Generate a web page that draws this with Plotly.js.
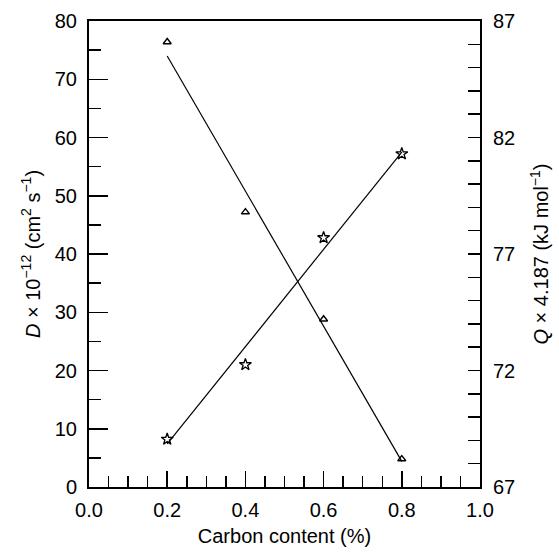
<!DOCTYPE html>
<html>
<head>
<meta charset="utf-8">
<script src="https://cdn.plot.ly/plotly-3.0.1.min.js"></script>
<style>html,body{margin:0;padding:0;background:#fff;}#chart{width:559px;height:554px;}</style>
</head>
<body>
<div id="chart"></div>
<script>
// Carbon content (%)
const carbon = [0.2, 0.4, 0.6, 0.8];
// D x 10^-12 (cm^2 s^-1), stars, left axis
const dValues = [8.2, 21.0, 42.8, 57.2];
// Q x 4.187 (kJ mol^-1), triangles, right axis
const qValues = [86.1, 78.8, 74.2, 68.2];
// Fitted straight lines (end points)
const fitX = [0.2, 0.8];
const dFit = [7.4, 57.5];
const qFit = [85.5, 68.1];
const xTicks = [0.0, 0.2, 0.4, 0.6, 0.8, 1.0];
const qTicks = [67, 72, 77, 82, 87];

const lineStyle = {color: '#000', width: 1.2};
const traces = [
  {x: fitX, y: dFit, mode: 'lines', line: lineStyle, yaxis: 'y', hoverinfo: 'skip'},
  {x: fitX, y: qFit, mode: 'lines', line: lineStyle, yaxis: 'y2', hoverinfo: 'skip'},
  {x: carbon, y: dValues, mode: 'markers', yaxis: 'y',
   marker: {symbol: 'star-open', size: 9, color: '#000', line: {width: 1.3, color: '#000'}}},
  {x: carbon, y: qValues, mode: 'markers', yaxis: 'y2',
   marker: {symbol: 'triangle-up-open', size: 7, color: '#000', line: {width: 1.4, color: '#000'}}}
];

const tickFont = {family: 'Liberation Sans, Arial, sans-serif', size: 20, color: '#000'};
const titleFont = {family: 'Liberation Sans, Arial, sans-serif', size: 20, color: '#000'};

const layout = {
  width: 559, height: 554,
  margin: {l: 89, r: 79, t: 21, b: 67, pad: 0},
  showlegend: false,
  paper_bgcolor: '#fff', plot_bgcolor: '#fff',
  xaxis: {
    range: [0, 1], tickvals: xTicks, ticktext: xTicks.map(v => v.toFixed(1)),
    ticks: 'inside', ticklen: 16, tickwidth: 1.5, tickcolor: '#000',
    minor: {dtick: 0.05, tick0: 0, ticks: 'inside', ticklen: 11, tickwidth: 1.5, tickcolor: '#000', showgrid: false},
    showline: true, linecolor: '#000', linewidth: 2, mirror: true,
    showgrid: false, zeroline: false,
    tickfont: tickFont, ticklabelstandoff: 4,
    title: {text: 'Carbon content (%)', font: titleFont, standoff: 9}
  },
  yaxis: {
    range: [0, 80], tick0: 0, dtick: 10,
    ticks: 'inside', ticklen: 19, tickwidth: 1.5, tickcolor: '#000',
    minor: {dtick: 5, tick0: 0, ticks: 'inside', ticklen: 12, tickwidth: 1.5, tickcolor: '#000', showgrid: false},
    showline: true, linecolor: '#000', linewidth: 2,
    showgrid: false, zeroline: false,
    tickfont: tickFont, ticklabelstandoff: 6,
    title: {text: '<i>D</i> × 10<sup>−12</sup> (cm<sup>2</sup> s<sup>−1</sup>)', font: titleFont, standoff: 9}
  },
  yaxis2: {
    overlaying: 'y', side: 'right',
    range: [67, 87], tickvals: qTicks,
    ticks: 'inside', ticklen: 12, tickwidth: 1.5, tickcolor: '#000',
    minor: {dtick: 1, tick0: 67, ticks: 'inside', ticklen: 12, tickwidth: 1.5, tickcolor: '#000', showgrid: false},
    showline: true, linecolor: '#000', linewidth: 2,
    showgrid: false, zeroline: false,
    tickfont: tickFont, ticklabelstandoff: 7,
    title: {text: '<i>Q</i> × 4.187 (kJ mol<sup>−1</sup>)', font: titleFont, standoff: 20}
  }
};

Plotly.newPlot('chart', traces, layout, {staticPlot: true, displayModeBar: false});
</script>
</body>
</html>
